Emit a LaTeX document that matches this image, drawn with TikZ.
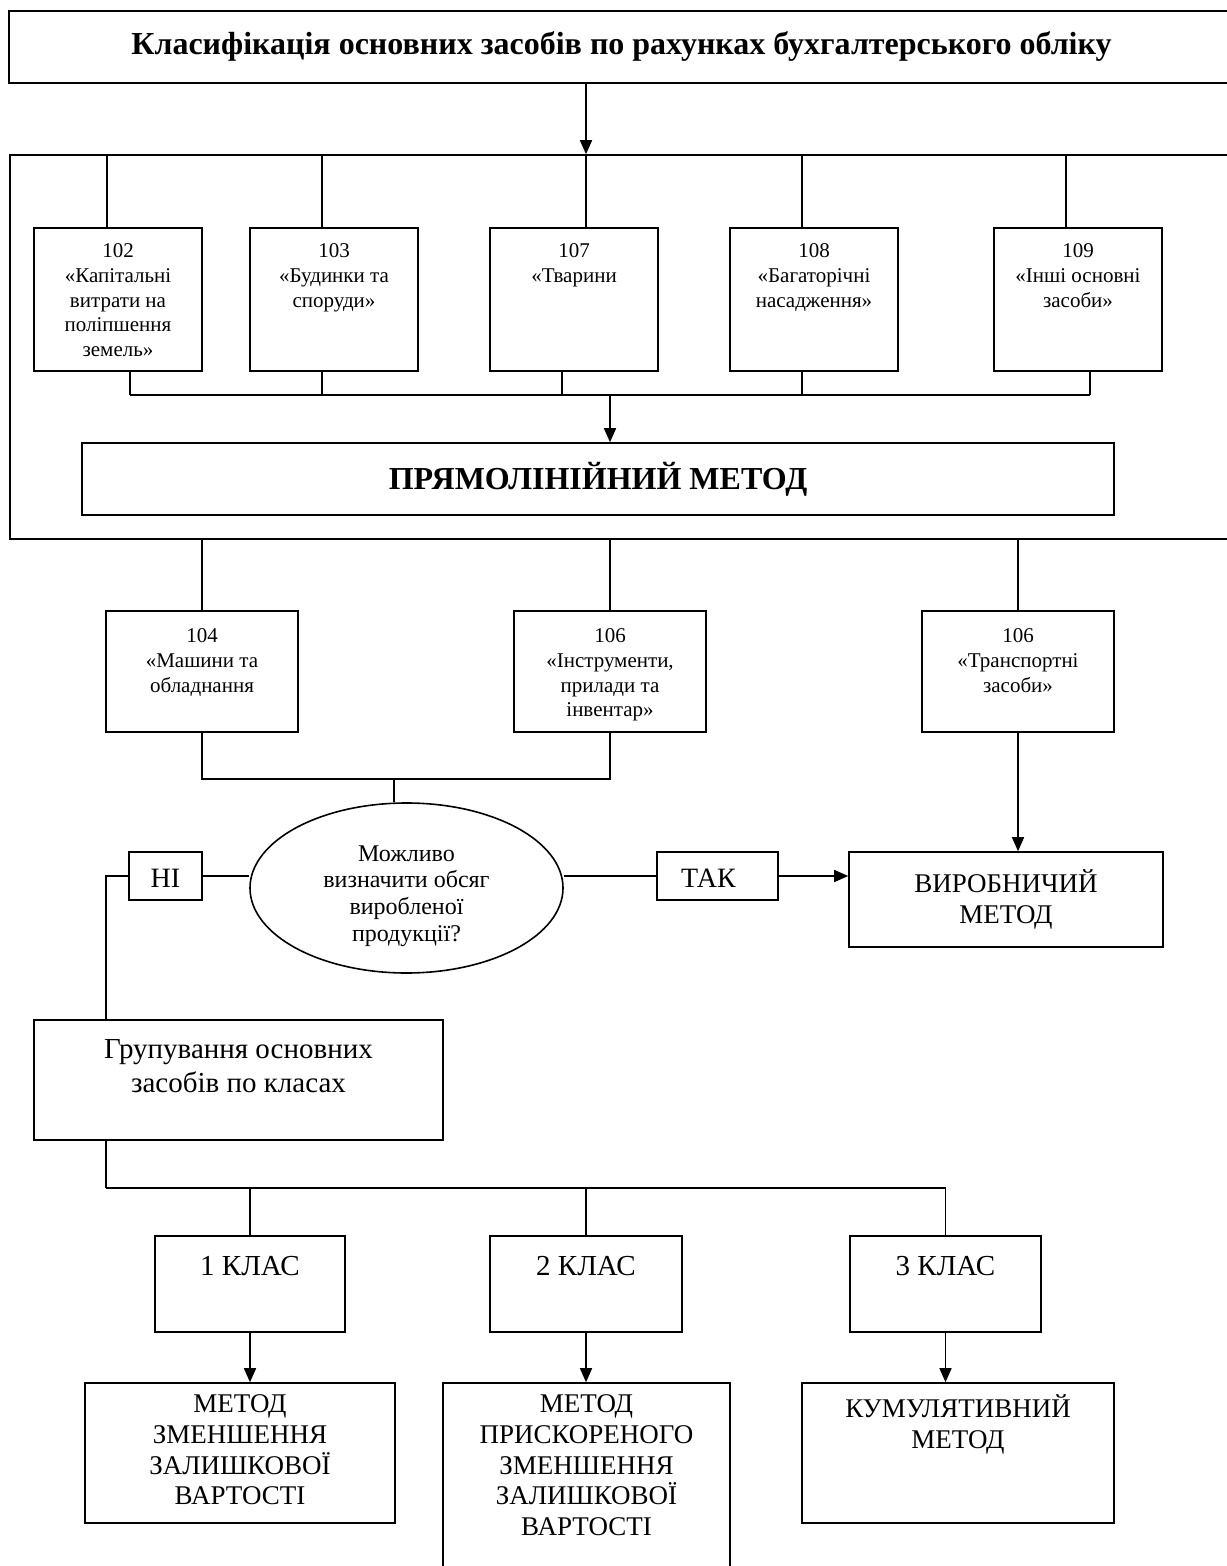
\documentclass[tikz,border=0pt]{standalone}
\usepackage{fontspec}
\setmainfont{Liberation Serif}
\usetikzlibrary{arrows.meta,positioning,fit,shapes.geometric}

\tikzset{
  box/.style={draw, inner sep=0pt},
  small/.style={font=\fontsize{10.5}{12.3}\selectfont, align=center, inner sep=0pt},
  big/.style={font=\fontsize{13.5}{15.3}\selectfont, align=center, inner sep=0pt},
  arr/.style={-{Triangle[length=7pt,width=6pt]}},
}

\begin{document}
\begin{tikzpicture}[x=0.5pt, y=-0.5pt, line width=0.8pt]
    \path[use as bounding box, fill=white] (0,0) rectangle (1226,1566);

    % title and the frame of straight-line accounts
    \node[box, fit={(9,11) (1240,83)}] (title) {};
    \node[font=\bfseries\fontsize{16}{19}\selectfont, inner sep=0pt] (ttitle) at (621.5,47)
        {Класифікація основних засобів по рахунках бухгалтерського обліку};
    \node[box, fit={(10,155) (1240,539)}] (frame) {};

    \node[box, fit={(34,228) (202,371)}] (b102) {};
    \node[box, fit={(250,228) (418,371)}] (b103) {};
    \node[box, fit={(490,228) (658,371)}] (b107) {};
    \node[box, fit={(730,228) (898,371)}] (b108) {};
    \node[box, fit={(994,228) (1162,371)}] (b109) {};
    \node[small, below=8pt of b102.north] (t102) {102\\«Капітальні\\витрати на\\поліпшення\\земель»};
    \node[small, below=8pt of b103.north] (t103) {103\\«Будинки та\\споруди»};
    \node[small, below=8pt of b107.north] (t107) {107\\«Тварини};
    \node[small, below=8pt of b108.north] (t108) {108\\«Багаторічні\\насадження»};
    \node[small, below=8pt of b109.north] (t109) {109\\«Інші основні\\засоби»};

    \node[box, fit={(82,443) (1114,515)}] (pr) {};
    \node[font=\bfseries\fontsize{16}{19}\selectfont, inner sep=0pt] (tpr) at (pr.center)
        {ПРЯМОЛІНІЙНИЙ МЕТОД};

    \draw[arr] (title.south -| 586,0) -- (frame.north -| 586,0);
    \foreach \b/\x in {b102/107, b103/322, b107/586, b108/802, b109/1066}
        \draw (frame.north -| \x,0) -- (\b.north -| \x,0);

    \coordinate (bus) at (0,395);
    \foreach \b/\x in {b102/130, b103/322, b107/562, b108/802, b109/1090}
        \draw (\b.south -| \x,0) -- (bus -| \x,0);
    \draw (bus -| 130,0) -- (bus -| 1090,0);
    \draw[arr] (bus -| 610,0) -- (pr.north -| 610,0);

    % accounts below the frame
    \node[box, fit={(106,611) (298,732)}] (b104) {};
    \node[box, fit={(514,611) (706,732)}] (b106a) {};
    \node[box, fit={(922,611) (1114,732)}] (b106b) {};
    \node[small, below=9pt of b104.north] (t104) {104\\«Машини та\\обладнання};
    \node[small, below=9pt of b106a.north] (t106a) {106\\«Інструменти,\\прилади та\\інвентар»};
    \node[small, below=9pt of b106b.north] (t106b) {106\\«Транспортні\\засоби»};
    \foreach \b in {b104, b106a, b106b}
        \draw (frame.south -| \b.north) -- (\b.north);

    % question
    \node[draw, ellipse, minimum width=156.5pt, minimum height=85pt, inner sep=0pt] (ask) at (406.5,888) {};
    \node[font=\fontsize{12}{13.4}\selectfont, align=center, inner sep=0pt, yshift=-4pt] (task) at (ask.center)
        {Можливо\\визначити обсяг\\виробленої\\продукції?};
    \node[box, fit={(129,852) (202,900)}] (no) {};
    \node[box, fit={(657,852) (778,900)}] (yes) {};
    \node[font=\fontsize{14}{16}\selectfont, inner sep=0pt, yshift=-1pt] (tno) at (no.center) {НІ};
    \node[font=\fontsize{14}{16}\selectfont, inner sep=0pt, xshift=-4.5pt, yshift=-1pt] (tyes) at (yes.center) {ТАК};
    \node[box, fit={(849,852) (1163,947)}] (vyr) {};
    \node[big, below=9pt of vyr.north] (tvyr) {ВИРОБНИЧИЙ\\МЕТОД};

    \coordinate (mbus) at (394,779);
    \draw (b104.south) -- (b104.south |- mbus) -- (b106a.south |- mbus) -- (b106a.south);
    \draw (mbus) -- (mbus |- ask.north);
    \draw[arr] (b106b.south) -- (b106b.south |- vyr.north);
    \draw (no.east) -- (no.east -| ask.west);
    \draw (yes.west -| ask.east) -- (yes.west);
    \draw[arr] (yes.east) -- (yes.east -| vyr.west);

    % grouping by classes
    \node[box, fit={(34,1020) (443,1140)}] (grp) {};
    \node[big, font=\fontsize{14.5}{17}\selectfont, below=9.5pt of grp.north] (tgrp)
        {Групування основних\\засобів по класах};
    \coordinate (cbus) at (106,1188);
    \draw (no.west) -| (grp.north -| cbus);
    \draw (grp.south -| cbus) -- (cbus);

    \node[box, fit={(155,1236) (345,1332)}] (c1) {};
    \node[box, fit={(490,1236) (682,1332)}] (c2) {};
    \node[box, fit={(850,1236) (1041,1332)}] (c3) {};
    \foreach \c/\n in {c1/1, c2/2, c3/3}
        \node[big, font=\fontsize{14.5}{16}\selectfont, below=10pt of \c.north] (t\c) {\n{} КЛАС};
    \draw (cbus) -| (c3.north);
    \draw (c1.north) -- (c1.north |- cbus);
    \draw (c2.north) -- (c2.north |- cbus);

    \node[box, fit={(85,1383) (395,1523)}] (m1) {};
    \node[box, fit={(443,1383) (730,1620)}] (m2) {};
    \node[box, fit={(802,1383) (1114,1523)}] (m3) {};
    \node[big, below=6pt of m1.north] (tm1) {МЕТОД\\ЗМЕНШЕННЯ\\ЗАЛИШКОВОЇ\\ВАРТОСТІ};
    \node[big, below=6pt of m2.north] (tm2) {МЕТОД\\ПРИСКОРЕНОГО\\ЗМЕНШЕННЯ\\ЗАЛИШКОВОЇ\\ВАРТОСТІ};
    \node[big, below=6pt of m3.north] (tm3) {КУМУЛЯТИВНИЙ\\МЕТОД};
    \foreach \c/\m in {c1/m1, c2/m2, c3/m3}
        \draw[arr] (\c.south) -- (\c.south |- \m.north);
\end{tikzpicture}
\end{document}
